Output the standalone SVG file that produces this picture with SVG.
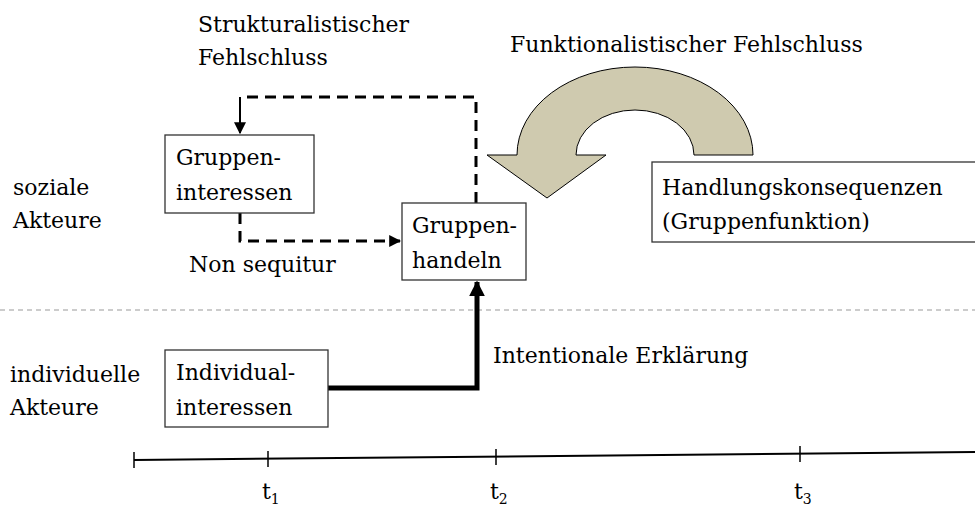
<svg xmlns="http://www.w3.org/2000/svg" width="975" height="510" viewBox="0 0 975 510">
<style>
text{font-family:"DejaVu Serif",serif;font-size:22px;fill:#000}
.box{fill:#fff;stroke:#333;stroke-width:1.3}
.dash{fill:none;stroke:#000;stroke-width:3;stroke-dasharray:11 7}
.sub{font-size:14px}
</style>
<defs>
<marker id="ah" viewBox="0 0 10 10" refX="9" refY="5" markerWidth="4" markerHeight="4" orient="auto" markerUnits="strokeWidth"><path d="M0,0 L10,5 L0,10 Z" fill="#000"/></marker>
<marker id="ahs" viewBox="0 0 10 10" refX="9" refY="5" markerWidth="6" markerHeight="6" orient="auto" markerUnits="strokeWidth"><path d="M0,0 L10,5 L0,10 Z" fill="#000"/></marker>
<marker id="ahb" viewBox="0 0 10 10" refX="9" refY="5" markerWidth="3.2" markerHeight="3.2" orient="auto" markerUnits="strokeWidth"><path d="M0,0 L10,5 L0,10 Z" fill="#000"/></marker>
</defs>

<line x1="0" y1="310" x2="975" y2="310" stroke="#999" stroke-width="1.2" stroke-dasharray="5 4"/>

<g id="labels">
<text x="198" y="32">Strukturalistischer</text>
<text x="198" y="65">Fehlschluss</text>
<text x="510" y="52">Funktionalistischer Fehlschluss</text>
<text x="13" y="195">soziale</text>
<text x="13" y="228">Akteure</text>
<text x="10" y="382">individuelle</text>
<text x="10" y="415">Akteure</text>
<text x="189" y="272">Non sequitur</text>
<text x="493" y="363">Intentionale Erklärung</text>
</g>

<g id="connectors">
<path class="dash" d="M476,203 L476,97 L240,97"/>
<path d="M240,97 L240,133" fill="none" stroke="#000" stroke-width="2" marker-end="url(#ahs)"/>
<path class="dash" d="M240,213 L240,241 L400,241" marker-end="url(#ah)"/>
<path d="M328,388 L477,388 L477,282" fill="none" stroke="#000" stroke-width="5" stroke-linejoin="miter" marker-end="url(#ahb)"/>
<path id="curved-arrow" d="M487,155 L517,155 A118,88 0 0 1 753,155 L694,155 A59,45 0 0 0 576,155 L606,155 L547,198 Z" fill="#CFCAAF" stroke="#000" stroke-width="1"/>
</g>

<g id="gruppeninteressen">
<rect class="box" x="165" y="135" width="149" height="78"/>
<text x="176" y="165">Gruppen-</text>
<text x="176" y="200">interessen</text>
</g>

<g id="gruppenhandeln">
<rect class="box" x="402" y="203" width="124" height="77"/>
<text x="412" y="233">Gruppen-</text>
<text x="412" y="268">handeln</text>
</g>

<g id="individualinteressen">
<rect class="box" x="165" y="350" width="163" height="77"/>
<text x="176" y="380">Individual-</text>
<text x="176" y="415">interessen</text>
</g>

<g id="handlungskonsequenzen">
<rect class="box" x="652" y="162" width="330" height="80"/>
<text x="662" y="195">Handlungskonsequenzen</text>
<text x="662" y="229">(Gruppenfunktion)</text>
</g>

<g id="timeline" stroke="#000" stroke-width="1.5">
<line x1="134" y1="460" x2="975" y2="452" stroke-width="2"/>
<line x1="134" y1="452" x2="134" y2="468"/>
<line x1="268" y1="451" x2="268" y2="467"/>
<line x1="496" y1="449" x2="496" y2="465"/>
<line x1="800" y1="446" x2="800" y2="462"/>
</g>
<g id="ticks-labels">
<text x="262" y="499">t<tspan class="sub" dy="5">1</tspan></text>
<text x="490" y="499">t<tspan class="sub" dy="5">2</tspan></text>
<text x="794" y="499">t<tspan class="sub" dy="5">3</tspan></text>
</g>
</svg>
